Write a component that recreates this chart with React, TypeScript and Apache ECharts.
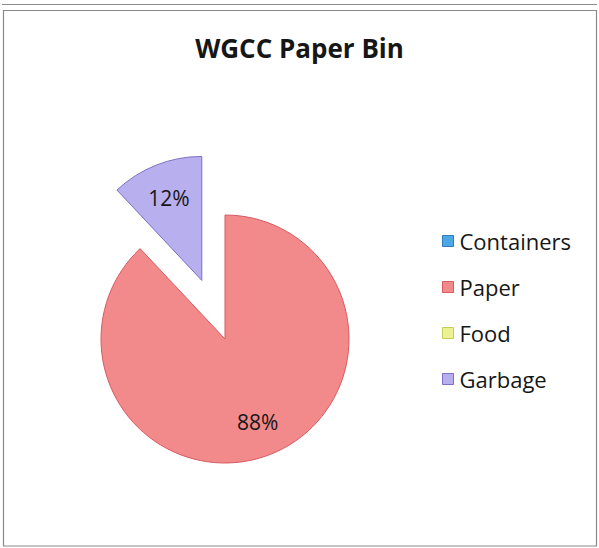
import React, { useEffect, useRef } from "react";
import * as echarts from "echarts";

const titleText = "WGCC Paper Bin";
const categories = ["Containers", "Paper", "Food", "Garbage"];
const values = [0, 88, 0, 12];
const explodedCategories = ["Garbage"];
const fillColors = ["#4DA7E6", "#F28A8C", "#ECF294", "#B8AFEF"];
const borderColors = ["#2F7FC0", "#D65A60", "#C4CB58", "#7C6FC4"];

const FONT = "'Open Sans', 'DejaVu Sans', sans-serif";
const TEXT = "#161616";

export default function App() {
  const ref = useRef<HTMLDivElement>(null);
  useEffect(() => {
    if (!ref.current) return;
    const chart = echarts.init(ref.current, undefined, { renderer: "svg" });
    const visibleData = categories.map((name, i) => ({
      name,
      value: values[i],
      selected: explodedCategories.includes(name),
      itemStyle: {
        color: fillColors[i],
        borderColor: borderColors[i],
        borderWidth: values[i] > 0 ? 1 : 0,
      },
    }));
    const labelData = categories.map((name, i) => ({
      name,
      value: values[i],
      selected: explodedCategories.includes(name),
    }));
    const center = [225, 339];
    chart.setOption({
      animation: false,
      backgroundColor: "#ffffff",
      title: {
        text: titleText,
        left: "center",
        top: 30,
        textStyle: {
          fontFamily: FONT,
          fontSize: 26,
          fontWeight: "bold",
          color: TEXT,
        },
      },
      legend: {
        orient: "vertical",
        left: 437,
        top: 225,
        icon: "rect",
        itemWidth: 11,
        itemHeight: 11,
        itemGap: 24,
        selectedMode: false,
        data: categories.map((name, i) => ({
          name,
          itemStyle: { color: fillColors[i], borderColor: borderColors[i], borderWidth: 1 },
        })),
        textStyle: {
          fontFamily: FONT,
          fontSize: 22,
          lineHeight: 22,
          color: TEXT,
          padding: [0, 0, 0, 1],
        },
      },
      graphic: [
        {
          type: "line",
          shape: { x1: 2, y1: 4.5, x2: 597, y2: 4.5 },
          style: { stroke: "#8a8a8a", lineWidth: 1.2 },
          silent: true,
        },
        {
          type: "rect",
          shape: { x: 3.5, y: 10.5, width: 593, height: 535.5 },
          style: { fill: "none", stroke: "#8a8a8a", lineWidth: 1.2 },
          silent: true,
        },
      ],
      series: [
        {
          type: "pie",
          name: "bin",
          center,
          radius: [0, 124],
          startAngle: 90,
          clockwise: true,
          selectedMode: "multiple",
          selectedOffset: 63,
          avoidLabelOverlap: false,
          silent: true,
          label: { show: false },
          labelLine: { show: false },
          emphasis: { disabled: true },
          select: { disabled: false, itemStyle: {} },
          data: visibleData,
          z: 2,
        },
        {
          type: "pie",
          name: "labels",
          center,
          radius: [0, 172],
          startAngle: 90,
          clockwise: true,
          selectedMode: "multiple",
          selectedOffset: 63,
          avoidLabelOverlap: false,
          silent: true,
          itemStyle: { color: "rgba(0,0,0,0)", borderWidth: 0 },
          label: {
            show: true,
            position: "inside",
            fontFamily: FONT,
            fontSize: 21,
            color: TEXT,
            formatter: (p: any) => (p.value > 0 ? `${Math.round(p.percent)}%` : ""),
          },
          labelLine: { show: false },
          emphasis: { disabled: true },
          data: labelData,
          z: 3,
        },
      ],
    });
    return () => chart.dispose();
  }, []);
  return (
    <div
      ref={ref}
      style={{ position: "absolute", left: 0, top: 0, width: 599, height: 548 }}
    />
  );
}
